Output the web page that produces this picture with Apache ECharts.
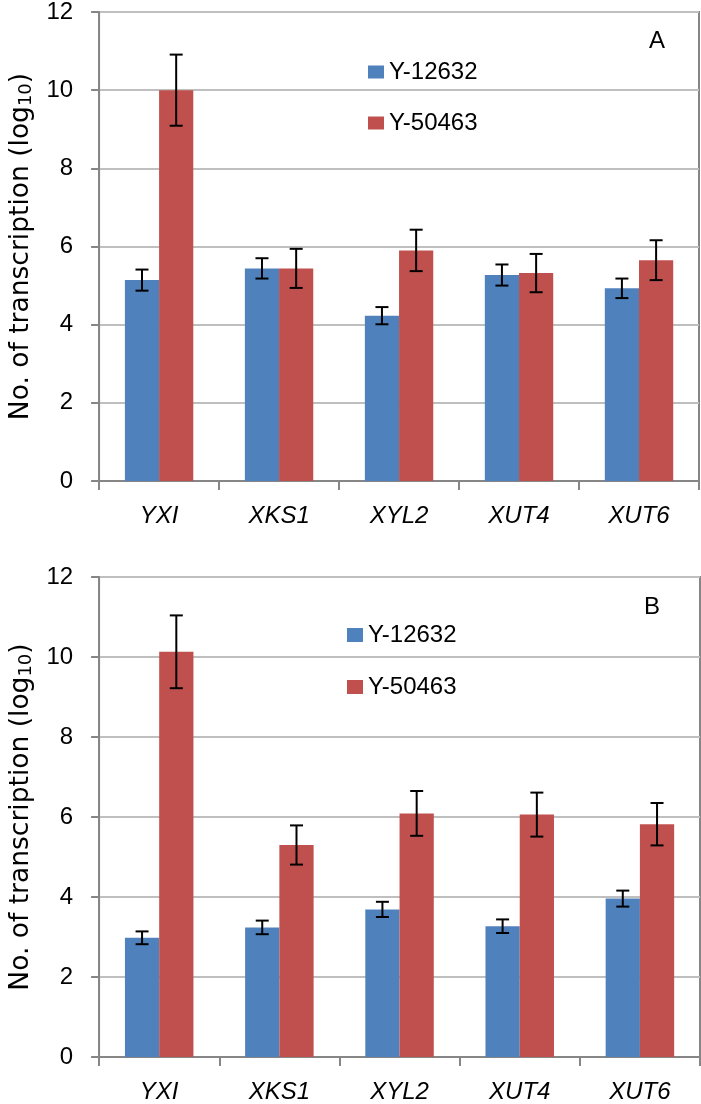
<!DOCTYPE html>
<html>
<head>
<meta charset="utf-8">
<script src="https://cdn.jsdelivr.net/npm/echarts@6/dist/echarts.min.js"></script>
<style>
html,body{margin:0;padding:0;background:#fff;}
#chart{width:701px;height:1104px;}
</style>
</head>
<body>
<div id="chart"></div>
<script>
const categories = ['YXI', 'XKS1', 'XYL2', 'XUT4', 'XUT6'];
const seriesNames = ['Y-12632', 'Y-50463'];
const yTicks = [0, 2, 4, 6, 8, 10, 12];

// Panel A
const a12632 = [5.14, 5.44, 4.23, 5.27, 4.93];
const a12632Err = [0.27, 0.26, 0.22, 0.27, 0.25];
const a50463 = [10.0, 5.44, 5.90, 5.32, 5.65];
const a50463Err = [0.91, 0.50, 0.53, 0.49, 0.51];

// Panel B
const b12632 = [2.98, 3.24, 3.69, 3.27, 3.96];
const b12632Err = [0.16, 0.17, 0.19, 0.17, 0.20];
const b50463 = [10.13, 5.30, 6.09, 6.06, 5.82];
const b50463Err = [0.91, 0.49, 0.56, 0.55, 0.53];

const panelLabels = ['A', 'B'];

const BLUE = '#4f81bd', RED = '#c0504d';
const GAP = 0.43;
const FONT = 'Liberation Sans';
const TITLE_FONT = 'DejaVu Sans';

function errData(vals, errs) {
  return vals.map((v, i) => [i, v, errs[i]]);
}
function errRender(sign) {
  return function (params, api) {
    const x = api.value(0), v = api.value(1), e = api.value(2);
    const band = api.size([1, 0])[0];
    const bw = band * (1 - GAP) / 2;
    const top = api.coord([x, v + e]);
    const bot = api.coord([x, v - e]);
    const cx = top[0] + sign * bw / 2;
    const cap = 6.5;
    const st = { stroke: '#000', lineWidth: 2 };
    return {
      type: 'group',
      children: [
        { type: 'line', shape: { x1: cx, y1: top[1], x2: cx, y2: bot[1] }, style: st },
        { type: 'line', shape: { x1: cx - cap, y1: top[1], x2: cx + cap, y2: top[1] }, style: st },
        { type: 'line', shape: { x1: cx - cap, y1: bot[1], x2: cx + cap, y2: bot[1] }, style: st }
      ]
    };
  };
}

const grids = [
  { left: 94, top: 10, right: 2, height: 471 },
  { left: 92, top: 577, right: 1, height: 482 }
];

function xAxis(i) {
  return {
    type: 'category', gridIndex: i, data: categories,
    axisLine: { lineStyle: { color: '#868686', width: 2 } },
    axisTick: { show: true, length: 9, lineStyle: { color: '#868686', width: 2 } },
    axisLabel: { color: '#000', fontSize: 24, fontStyle: 'italic', fontFamily: FONT, margin: 23 }
  };
}
function yAxis(i, gap) {
  return {
    type: 'value', gridIndex: i, min: yTicks[0], max: yTicks[yTicks.length - 1], interval: 2,
    name: 'No. of transcription (log{sub|10})',
    nameLocation: 'middle', nameGap: gap,
    nameTextStyle: {
      color: '#000', fontSize: 26.5, fontFamily: TITLE_FONT,
      rich: { sub: { fontSize: 18, verticalAlign: 'bottom', padding: [10, 0, 0, 0], fontFamily: TITLE_FONT } }
    },
    axisLine: { show: true, lineStyle: { color: '#868686', width: 2 } },
    axisTick: { show: true, length: 8, lineStyle: { color: '#868686', width: 2 } },
    axisLabel: { color: '#000', fontSize: 24, fontFamily: FONT, margin: 26 },
    splitLine: { show: true, lineStyle: { color: '#bfbfbf', width: 2 } }
  };
}

const option = {
  animation: false,
  backgroundColor: '#fff',
  textStyle: { fontFamily: FONT },
  grid: grids.map(g => Object.assign({ show: true, borderColor: '#868686', borderWidth: 2, backgroundColor: 'transparent' }, g)),
  xAxis: [xAxis(0), xAxis(1)],
  yAxis: [yAxis(0, 62), yAxis(1, 60)],
  title: [
    { text: panelLabels[0], left: 649, top: 29, padding: 0, textStyle: { fontSize: 24, fontWeight: 'normal', color: '#000', fontFamily: FONT } },
    { text: panelLabels[1], left: 644, top: 595, padding: 0, textStyle: { fontSize: 24, fontWeight: 'normal', color: '#000', fontFamily: FONT } }
  ],
  legend: [
    { data: seriesNames, orient: 'vertical', left: 368, top: 60, padding: 0, itemGap: 27, itemWidth: 16, itemHeight: 13, icon: 'rect',
      textStyle: { fontSize: 24, color: '#000', fontFamily: FONT, lineHeight: 24 } },
    { data: seriesNames, orient: 'vertical', left: 347, top: 623, padding: 0, itemGap: 28, itemWidth: 16, itemHeight: 14, icon: 'rect',
      textStyle: { fontSize: 24, color: '#000', fontFamily: FONT, lineHeight: 24 } }
  ],
  series: [
    { name: seriesNames[0], type: 'bar', xAxisIndex: 0, yAxisIndex: 0, data: a12632, itemStyle: { color: BLUE }, barGap: '0%', barCategoryGap: '43%' },
    { name: seriesNames[1], type: 'bar', xAxisIndex: 0, yAxisIndex: 0, data: a50463, itemStyle: { color: RED }, barGap: '0%', barCategoryGap: '43%' },
    { name: seriesNames[0], type: 'bar', xAxisIndex: 1, yAxisIndex: 1, data: b12632, itemStyle: { color: BLUE }, barGap: '0%', barCategoryGap: '43%' },
    { name: seriesNames[1], type: 'bar', xAxisIndex: 1, yAxisIndex: 1, data: b50463, itemStyle: { color: RED }, barGap: '0%', barCategoryGap: '43%' },
    { type: 'custom', xAxisIndex: 0, yAxisIndex: 0, data: errData(a12632, a12632Err), renderItem: errRender(-1), z: 10 },
    { type: 'custom', xAxisIndex: 0, yAxisIndex: 0, data: errData(a50463, a50463Err), renderItem: errRender(1), z: 10 },
    { type: 'custom', xAxisIndex: 1, yAxisIndex: 1, data: errData(b12632, b12632Err), renderItem: errRender(-1), z: 10 },
    { type: 'custom', xAxisIndex: 1, yAxisIndex: 1, data: errData(b50463, b50463Err), renderItem: errRender(1), z: 10 }
  ]
};

const chart = echarts.init(document.getElementById('chart'), null, { renderer: 'canvas' });
chart.setOption(option);
</script>
</body>
</html>
